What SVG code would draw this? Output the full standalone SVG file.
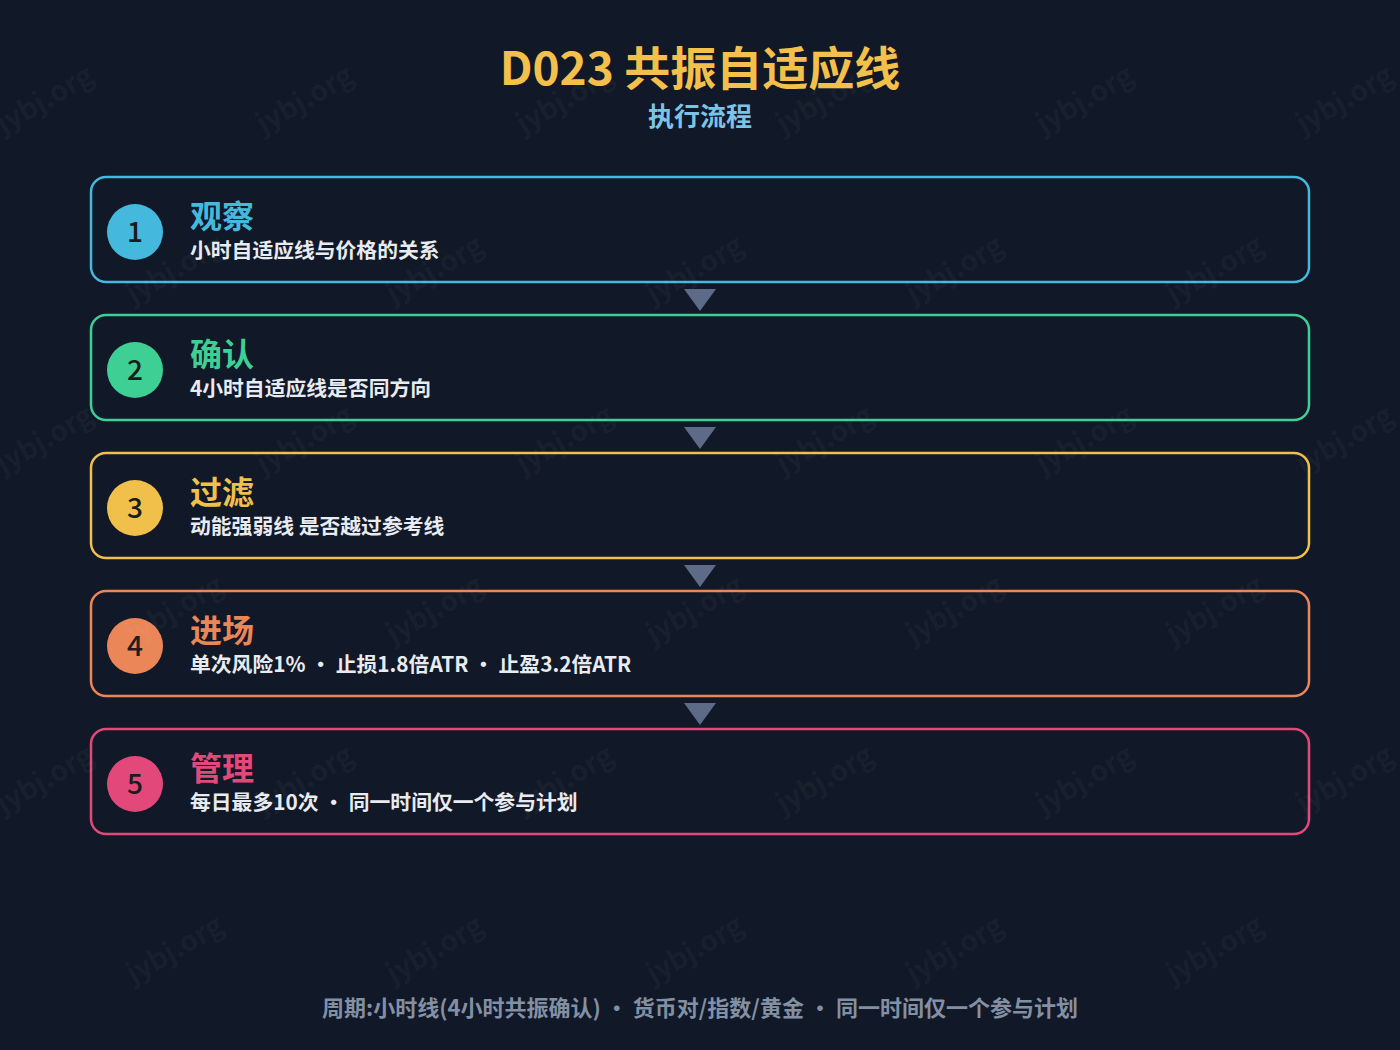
<svg xmlns="http://www.w3.org/2000/svg" width="1400" height="1050" viewBox="0 0 1400 1050">
<style>
text{font-family:"Noto Sans CJK SC","Noto Sans",sans-serif}
.wm{font-size:28px;font-weight:700;fill:#ffffff;fill-opacity:0.05;text-anchor:middle}
.box{fill:#111827;stroke-width:2.5}
.num{font-size:28px;font-weight:500;fill:#1b1b1b;text-anchor:middle}
.ttl{font-size:32px;font-weight:700}
.sub{font-size:20.8px;font-weight:700;fill:#e8ebf0}
.arr{fill:#5d6b88}
</style>
<rect width="1400" height="1050" fill="#111827"/>
<g id="header">
<text x="700" y="85" text-anchor="middle" font-size="46" font-weight="700" fill="#f3c04b">D023 共振自适应线</text>
<text x="700" y="126" text-anchor="middle" font-size="26" font-weight="700" fill="#7cc3e6">执行流程</text>
</g>
<g id="connectors">
<polygon class="arr" points="684,289 716,289 700,311"/>
<polygon class="arr" points="684,427 716,427 700,449"/>
<polygon class="arr" points="684,565 716,565 700,587"/>
<polygon class="arr" points="684,703 716,703 700,725"/>
</g>
<g id="step1">
<rect class="box" x="91" y="177" width="1218" height="105" rx="15" stroke="#45b8dd"/>
<circle cx="135" cy="232" r="28" fill="#45b8dd"/>
<text class="num" x="135" y="242">1</text>
<text class="ttl" x="190" y="228" fill="#45b8dd">观察</text>
<text class="sub" x="190" y="258">小时自适应线与价格的关系</text>
</g>
<g id="step2">
<rect class="box" x="91" y="315" width="1218" height="105" rx="15" stroke="#3ecf95"/>
<circle cx="135" cy="370" r="28" fill="#3ecf95"/>
<text class="num" x="135" y="380">2</text>
<text class="ttl" x="190" y="366" fill="#3ecf95">确认</text>
<text class="sub" x="190" y="396">4小时自适应线是否同方向</text>
</g>
<g id="step3">
<rect class="box" x="91" y="453" width="1218" height="105" rx="15" stroke="#f0c04a"/>
<circle cx="135" cy="508" r="28" fill="#f0c04a"/>
<text class="num" x="135" y="518">3</text>
<text class="ttl" x="190" y="504" fill="#f0c04a">过滤</text>
<text class="sub" x="190" y="534">动能强弱线 是否越过参考线</text>
</g>
<g id="step4">
<rect class="box" x="91" y="591" width="1218" height="105" rx="15" stroke="#ea8657"/>
<circle cx="135" cy="646" r="28" fill="#ea8657"/>
<text class="num" x="135" y="656">4</text>
<text class="ttl" x="190" y="642" fill="#ea8657">进场</text>
<text class="sub" x="190" y="672">单次风险1% · 止损1.8倍ATR · 止盈3.2倍ATR</text>
</g>
<g id="step5">
<rect class="box" x="91" y="729" width="1218" height="105" rx="15" stroke="#e2497a"/>
<circle cx="135" cy="784" r="28" fill="#e2497a"/>
<text class="num" x="135" y="794">5</text>
<text class="ttl" x="190" y="780" fill="#e2497a">管理</text>
<text class="sub" x="190" y="810">每日最多10次 · 同一时间仅一个参与计划</text>
</g>
<g id="footer">
<text x="700" y="1016" text-anchor="middle" font-size="22" font-weight="700" fill="#8390a4">周期:小时线(4小时共振确认) · 货币对/指数/黄金 · 同一时间仅一个参与计划</text>
</g>
<g id="watermarks">
<g transform="translate(45,100) rotate(-30)"><text class="wm" y="9">jybj.org</text></g>
<g transform="translate(305,100) rotate(-30)"><text class="wm" y="9">jybj.org</text></g>
<g transform="translate(565,100) rotate(-30)"><text class="wm" y="9">jybj.org</text></g>
<g transform="translate(825,100) rotate(-30)"><text class="wm" y="9">jybj.org</text></g>
<g transform="translate(1085,100) rotate(-30)"><text class="wm" y="9">jybj.org</text></g>
<g transform="translate(1345,100) rotate(-30)"><text class="wm" y="9">jybj.org</text></g>
<g transform="translate(175,270) rotate(-30)"><text class="wm" y="9">jybj.org</text></g>
<g transform="translate(435,270) rotate(-30)"><text class="wm" y="9">jybj.org</text></g>
<g transform="translate(695,270) rotate(-30)"><text class="wm" y="9">jybj.org</text></g>
<g transform="translate(955,270) rotate(-30)"><text class="wm" y="9">jybj.org</text></g>
<g transform="translate(1215,270) rotate(-30)"><text class="wm" y="9">jybj.org</text></g>
<g transform="translate(45,440) rotate(-30)"><text class="wm" y="9">jybj.org</text></g>
<g transform="translate(305,440) rotate(-30)"><text class="wm" y="9">jybj.org</text></g>
<g transform="translate(565,440) rotate(-30)"><text class="wm" y="9">jybj.org</text></g>
<g transform="translate(825,440) rotate(-30)"><text class="wm" y="9">jybj.org</text></g>
<g transform="translate(1085,440) rotate(-30)"><text class="wm" y="9">jybj.org</text></g>
<g transform="translate(1345,440) rotate(-30)"><text class="wm" y="9">jybj.org</text></g>
<g transform="translate(175,610) rotate(-30)"><text class="wm" y="9">jybj.org</text></g>
<g transform="translate(435,610) rotate(-30)"><text class="wm" y="9">jybj.org</text></g>
<g transform="translate(695,610) rotate(-30)"><text class="wm" y="9">jybj.org</text></g>
<g transform="translate(955,610) rotate(-30)"><text class="wm" y="9">jybj.org</text></g>
<g transform="translate(1215,610) rotate(-30)"><text class="wm" y="9">jybj.org</text></g>
<g transform="translate(45,780) rotate(-30)"><text class="wm" y="9">jybj.org</text></g>
<g transform="translate(305,780) rotate(-30)"><text class="wm" y="9">jybj.org</text></g>
<g transform="translate(565,780) rotate(-30)"><text class="wm" y="9">jybj.org</text></g>
<g transform="translate(825,780) rotate(-30)"><text class="wm" y="9">jybj.org</text></g>
<g transform="translate(1085,780) rotate(-30)"><text class="wm" y="9">jybj.org</text></g>
<g transform="translate(1345,780) rotate(-30)"><text class="wm" y="9">jybj.org</text></g>
<g transform="translate(175,950) rotate(-30)"><text class="wm" y="9">jybj.org</text></g>
<g transform="translate(435,950) rotate(-30)"><text class="wm" y="9">jybj.org</text></g>
<g transform="translate(695,950) rotate(-30)"><text class="wm" y="9">jybj.org</text></g>
<g transform="translate(955,950) rotate(-30)"><text class="wm" y="9">jybj.org</text></g>
<g transform="translate(1215,950) rotate(-30)"><text class="wm" y="9">jybj.org</text></g>
</g>
</svg>
